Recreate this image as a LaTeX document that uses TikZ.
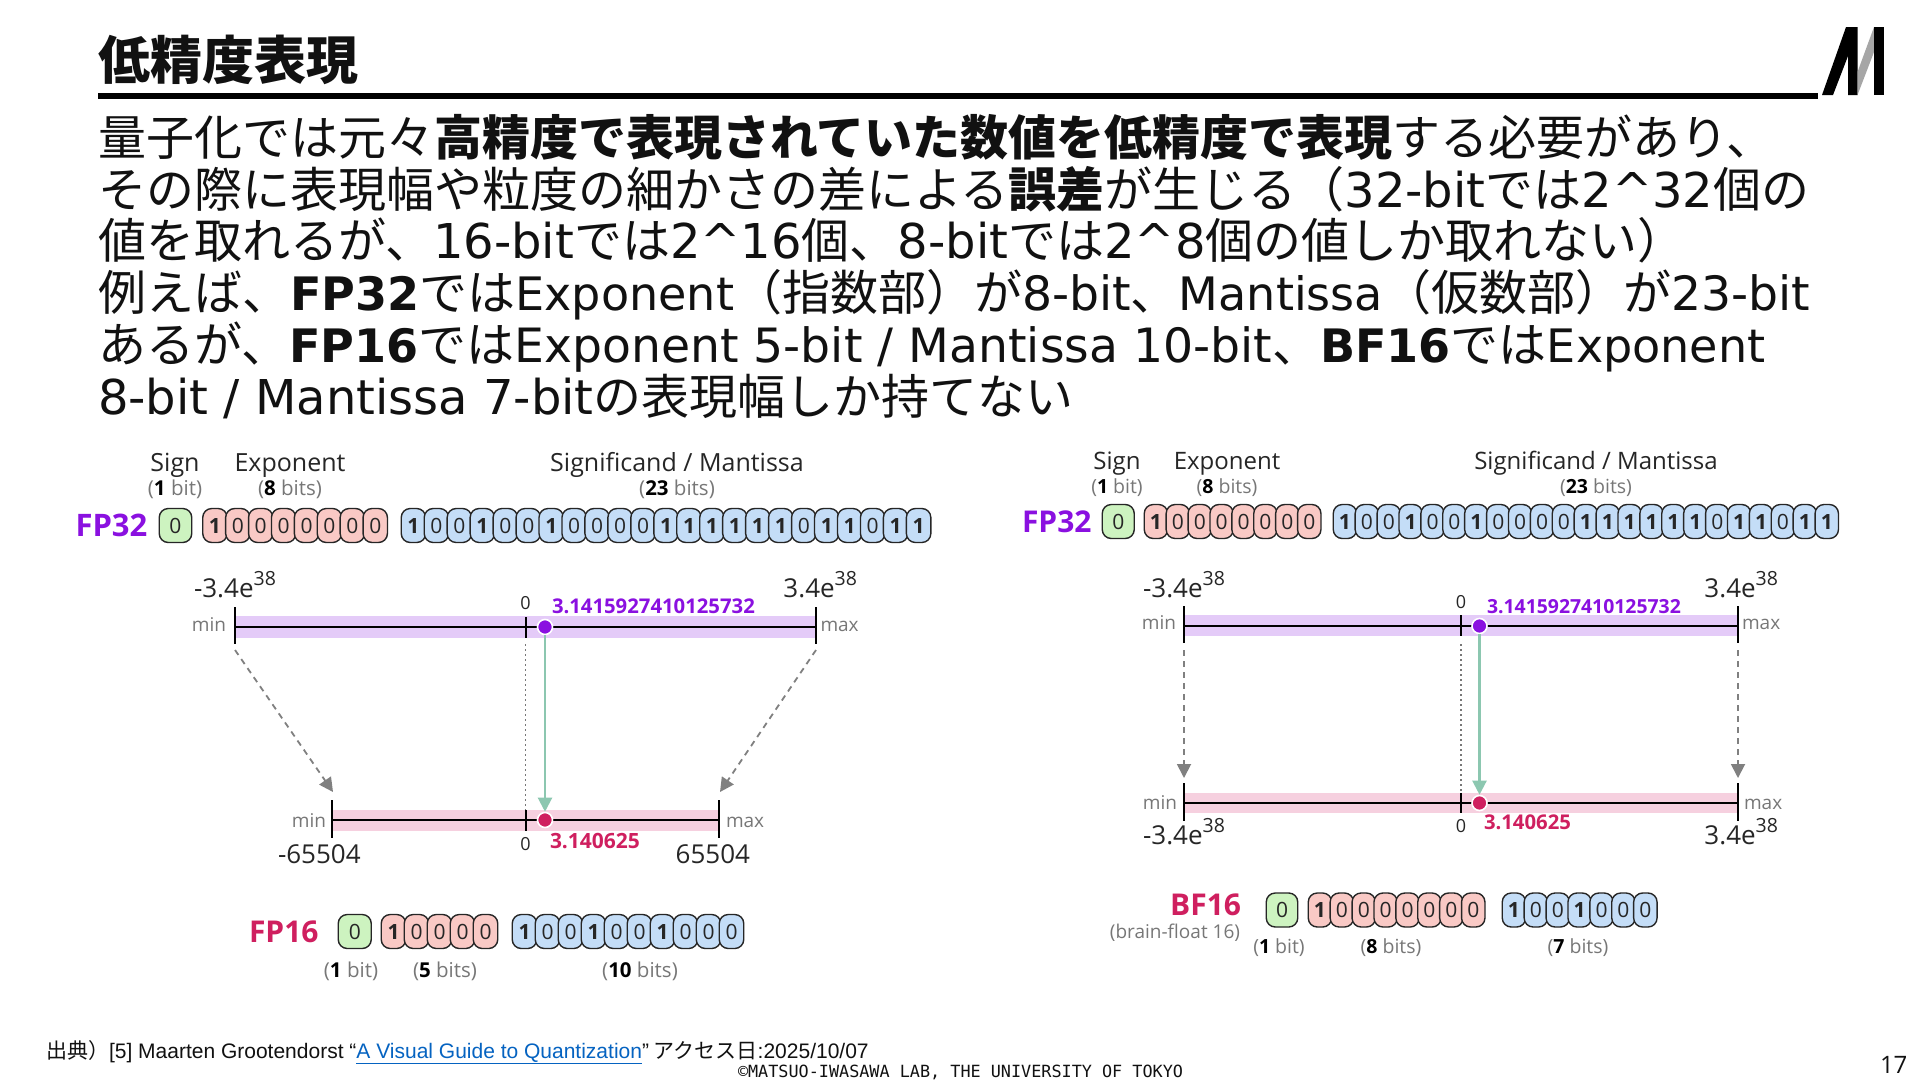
\documentclass[tikz,border=0pt]{standalone}
\usepackage{fontspec}
\setmainfont{Noto Sans CJK JP}
\newfontfamily\lat{DejaVu Sans}
\newfontfamily\latw[Scale=0.96]{DejaVu Sans}
\newfontfamily\latm[Scale=0.985]{DejaVu Sans}
\newfontfamily\dia{Open Sans}
\newfontfamily\arial{Liberation Sans}
\newfontfamily\cmono{DejaVu Sans Mono}
\usetikzlibrary{arrows.meta}
\definecolor{ink}{HTML}{111111}
\definecolor{fpP}{HTML}{8A10E0}
\definecolor{fpR}{HTML}{CF1F5F}
\definecolor{bandP}{HTML}{E4CBF8}
\definecolor{bandR}{HTML}{F6D0DF}
\definecolor{cG}{HTML}{CDF3C0}
\definecolor{cR}{HTML}{F9C9C5}
\definecolor{cB}{HTML}{C4DDF7}
\definecolor{teal}{HTML}{8CC7B0}
\definecolor{grayt}{HTML}{777777}
\definecolor{guideg}{HTML}{808080}
\definecolor{linkb}{HTML}{0563C1}
\newcommand{\sz}[1]{\fontsize{#1}{#1}\selectfont}
\newcommand{\la}[1]{{\lat #1}}
\newcommand{\lw}[1]{{\latw #1}}
\newcommand{\lm}[1]{{\latm #1}}
\newcommand{\lab}[1]{{\latw\bfseries #1}}
\newcommand{\bitlab}[2]{{\color{grayt}(}{\bfseries #1}{\color{grayt}\ #2)}}
\newcommand{\expo}[1]{#1e\raisebox{0.45em}{\sz{19.5}38}}
\newcommand{\bitrow}[6]{%
  \foreach \b [count=\i] in {#6} {
    \node[bitcell,fill=#5,minimum width=#4 pt+1.5pt] (#1\i) at ({#2+(\i-0.5)*#4},#3)
      {\ifnum\b=1 \bfseries 1\else 0\fi};
  }}
\tikzset{
  txt/.style={inner sep=0pt,outer sep=0pt,anchor=base},
  bodyline/.style={txt,anchor=base west,text=ink},
  bitcell/.style={draw=black!85,line width=1.4pt,rounded corners=9pt,inner sep=0pt,
     minimum height=34pt,font=\dia\sz{21},text=black!85},
  axisline/.style={line width=2pt,black},
  tick/.style={line width=2pt,black},
  guide/.style={line width=1.8pt,guideg,dash pattern=on 6pt off 5pt,
     -{Triangle[length=14pt,width=14pt,fill=guideg]}},
  zguide/.style={line width=1.3pt,grayt,dash pattern=on 2pt off 3pt},
  quant/.style={line width=2.2pt,teal,-{Triangle[length=14pt,width=14pt,fill=teal]}},
  dot/.style={circle,draw=white,line width=1.6pt,inner sep=0pt,minimum size=15pt},
  name lbl/.style={txt,font=\dia\sz{25},text=black!85},
  name lblr/.style={txt,font=\dia\sz{24},text=black!85},
  bits lbl/.style={txt,font=\dia\sz{20.5}},
  bits lblr/.style={txt,font=\dia\sz{19.5}},
  mm lbl/.style={txt,font=\dia\sz{19},text=grayt},
  zero lbl/.style={txt,font=\dia\sz{18},text=black!85},
  val lbl/.style={txt,font=\dia\bfseries\sz{20.3}},
  val lblr/.style={txt,font=\dia\bfseries\sz{19.4}},
  rng lbl/.style={txt,font=\dia\sz{26},text=black!85},
  fp lbl/.style={txt,font=\dia\bfseries\sz{30}},
}
\begin{document}
\begin{tikzpicture}[x=1pt,y=-1pt]
\useasboundingbox (0,0) rectangle (1920,1080);
\fill[white] (0,0) rectangle (1920,1080);
% header
\node[bodyline,font=\bfseries\sz{52}] (title) at (98,79) {低精度表現};
\coordinate (ruleL) at (98,96);
\coordinate (ruleR) at (1818,96);
\draw[line width=6pt,black] (ruleL) -- (ruleR);
\fill[black] (1822,95) -- (1846,27) -- (1857.5,27) -- (1857.5,95) -- (1848,95) -- (1848,56) -- (1833,95) -- cycle;
\fill[black!35] (1857.5,95) -- (1857.5,72) -- (1874,27) -- (1874,52) -- cycle;
\fill[black] (1874,27) rectangle (1884,95);
% body
\node[bodyline,font=\sz{48}] (b1) at (98,155) {量子化では元々{\bfseries 高精度で表現されていた数値を低精度で表現}する必要があり、};
\node[bodyline,font=\sz{48}] (b2) at (98,207) {その際に表現幅や粒度の細かさの差による{\bfseries 誤差}が生じる（\la{32-bit}では\la{2\textasciicircum 32}個の};
\node[bodyline,font=\sz{48}] (b3) at (98,258) {値を取れるが、\la{16-bit}では\la{2\textasciicircum 16}個、\la{8-bit}では\la{2\textasciicircum 8}個の値しか取れない）};
\node[bodyline,font=\sz{48}] (b4) at (98,310) {例えば、\lab{FP32}では\lw{Exponent}（指数部）が\lm{8-bit}、\lw{Mantissa}（仮数部）が\lm{23-bit}};
\node[bodyline,font=\sz{48}] (b5) at (98,362) {あるが、\lab{FP16}では\lm{Exponent 5-bit / Mantissa 10-bit}、\lab{BF16}では\lw{Exponent}};
\node[bodyline,font=\sz{48}] (b6) at (98,414) {\la{8-bit / Mantissa 7-bit}の表現幅しか持てない};
% ---------- left
\node[name lbl] (lS) at (175,471) {Sign};
\node[name lbl] (lE) at (290,471) {Exponent};
\node[name lbl] (lM) at (677,471) {Significand / Mantissa};
\node[bits lbl] (lSb) at (175,495) {\bitlab{1}{bit}};
\node[bits lbl] (lEb) at (290,495) {\bitlab{8}{bits}};
\node[bits lbl] (lMb) at (677,495) {\bitlab{23}{bits}};
\node[fp lbl,font=\dia\bfseries\sz{31},text=fpP,anchor=base west] (lfp) at (75.5,536) {FP32};
\bitrow{lsg}{160}{525.5}{31}{cG}{0}
\bitrow{lex}{203.5}{525.5}{22.9}{cR}{1,0,0,0,0,0,0,0}
\bitrow{lma}{402}{525.5}{22.96}{cB}{1,0,0,1,0,0,1,0,0,0,0,1,1,1,1,1,1,0,1,1,0,1,1}
% upper line
\fill[bandP] (235,616) rectangle (816,638);
\coordinate (la0) at (235,627); \coordinate (la1) at (816,627);
\coordinate (lat0) at (235,607); \coordinate (lab0) at (235,644);
\coordinate (lat1) at (816,607); \coordinate (lab1) at (816,644);
\coordinate (lzt) at (525.5,617); \coordinate (lzb) at (525.5,638);
\draw[axisline] (la0) -- (la1);
\draw[tick] (lat0) -- (lab0); \draw[tick] (lat1) -- (lab1); \draw[tick] (lzt) -- (lzb);
\node[rng lbl,anchor=base west] (lmn) at (194,597) {\expo{-3.4}};
\node[rng lbl,anchor=base east] (lmx) at (857,597) {\expo{3.4}};
\node[mm lbl,anchor=base east] (lmin) at (226,631) {min};
\node[mm lbl,anchor=base west] (lmax) at (820.5,631) {max};
\node[zero lbl] (lz) at (525.5,609) {0};
\node[val lbl,anchor=base west,text=fpP] (lv) at (552,613) {3.1415927410125732};
% lower line
\fill[bandR] (332,810) rectangle (719,831);
\coordinate (lb0) at (332,820); \coordinate (lb1) at (719,820);
\coordinate (lbt0) at (332,800); \coordinate (lbb0) at (332,838);
\coordinate (lbt1) at (719,800); \coordinate (lbb1) at (719,838);
\coordinate (lzt2) at (525.5,810); \coordinate (lzb2) at (525.5,831);
\draw[zguide] (lzb) ++(0,6) -- (lzt2);
\draw[axisline] (lb0) -- (lb1);
\draw[tick] (lbt0) -- (lbb0); \draw[tick] (lbt1) -- (lbb1); \draw[tick] (lzt2) -- (lzb2);
\node[mm lbl,anchor=base east] (lbmin) at (326,827) {min};
\node[mm lbl,anchor=base west] (lbmax) at (726,827) {max};
\node[zero lbl] (lz2) at (525.5,850) {0};
\node[val lbl,font=\dia\bfseries\sz{21},anchor=base west,text=fpR] (lv2) at (550,848) {3.140625};
\node[rng lbl,anchor=base west] (ln65) at (278,863) {-65504};
\node[rng lbl,anchor=base east] (lp65) at (750,863) {65504};
% guides
\coordinate (lgs0) at (235,650); \coordinate (lge0) at (333,792);
\coordinate (lgs1) at (816,650); \coordinate (lge1) at (720,792);
\draw[guide] (lgs0) -- (lge0);
\draw[guide] (lgs1) -- (lge1);
\node[dot,fill=fpP] (ld) at (545,627) {};
\node[dot,fill=fpR] (ld2) at (545,820) {};
\draw[quant] (ld) -- (ld2);
% FP16
\node[fp lbl,text=fpR,anchor=base west] (lfp16) at (249,942) {FP16};
\bitrow{usg}{339}{931.5}{31.5}{cG}{0}
\bitrow{uex}{382}{931.5}{23}{cR}{1,0,0,0,0}
\bitrow{uma}{513}{931.5}{23}{cB}{1,0,0,1,0,0,1,0,0,0}
\node[bits lbl] (uSb) at (351,977) {\bitlab{1}{bit}};
\node[bits lbl] (uEb) at (445,977) {\bitlab{5}{bits}};
\node[bits lbl] (uMb) at (640,977) {\bitlab{10}{bits}};
% ---------- right
\node[name lblr] (rS) at (1117,469) {Sign};
\node[name lblr] (rE) at (1227,469) {Exponent};
\node[name lblr] (rM) at (1596,469) {Significand / Mantissa};
\node[bits lblr] (rSb) at (1117,493) {\bitlab{1}{bit}};
\node[bits lblr] (rEb) at (1227,493) {\bitlab{8}{bits}};
\node[bits lblr] (rMb) at (1596,493) {\bitlab{23}{bits}};
\node[fp lbl,text=fpP,anchor=base west] (rfp) at (1022,532) {FP32};
\bitrow{rsg}{1103}{521.5}{30.5}{cG}{0}
\bitrow{rex}{1145}{521.5}{21.9}{cR}{1,0,0,0,0,0,0,0}
\bitrow{rma}{1334}{521.5}{21.9}{cB}{1,0,0,1,0,0,1,0,0,0,0,1,1,1,1,1,1,0,1,1,0,1,1}
\fill[bandP] (1184,615) rectangle (1738,636);
\coordinate (ra0) at (1184,626); \coordinate (ra1) at (1738,626);
\coordinate (rat0) at (1184,606); \coordinate (rab0) at (1184,643);
\coordinate (rat1) at (1738,606); \coordinate (rab1) at (1738,643);
\coordinate (rzt) at (1461,615); \coordinate (rzb) at (1461,636);
\draw[axisline] (ra0) -- (ra1);
\draw[tick] (rat0) -- (rab0); \draw[tick] (rat1) -- (rab1); \draw[tick] (rzt) -- (rzb);
\node[rng lbl,anchor=base west] (rmn) at (1143,597) {\expo{-3.4}};
\node[rng lbl,anchor=base east] (rmx) at (1778,597) {\expo{3.4}};
\node[mm lbl,anchor=base east] (rmin) at (1176,629) {min};
\node[mm lbl,anchor=base west] (rmax) at (1742,629) {max};
\node[zero lbl] (rz) at (1461,608) {0};
\node[val lblr,anchor=base west,text=fpP] (rv) at (1487,613) {3.1415927410125732};
\fill[bandR] (1184,793) rectangle (1738,813);
\coordinate (rb0) at (1184,803); \coordinate (rb1) at (1738,803);
\coordinate (rbt0) at (1184,783); \coordinate (rbb0) at (1184,821);
\coordinate (rbt1) at (1738,783); \coordinate (rbb1) at (1738,821);
\coordinate (rzt2) at (1461,793); \coordinate (rzb2) at (1461,813);
\draw[zguide] (rzb) ++(0,8) -- (rzt2);
\draw[axisline] (rb0) -- (rb1);
\draw[tick] (rbt0) -- (rbb0); \draw[tick] (rbt1) -- (rbb1); \draw[tick] (rzt2) -- (rzb2);
\node[mm lbl,anchor=base east] (rbmin) at (1177,809) {min};
\node[mm lbl,anchor=base west] (rbmax) at (1744,809) {max};
\node[zero lbl] (rz2) at (1461,832) {0};
\node[val lbl,anchor=base west,text=fpR] (rv2) at (1484,829) {3.140625};
\node[rng lbl,anchor=base west] (rbmn) at (1143,844) {\expo{-3.4}};
\node[rng lbl,anchor=base east] (rbmx) at (1778,844) {\expo{3.4}};
\coordinate (rgs0) at (1184,650); \coordinate (rge0) at (1184,778);
\coordinate (rgs1) at (1738,650); \coordinate (rge1) at (1738,778);
\draw[guide] (rgs0) -- (rge0);
\draw[guide] (rgs1) -- (rge1);
\node[dot,fill=fpP] (rd) at (1479.5,626) {};
\node[dot,fill=fpR] (rd2) at (1479.5,803) {};
\draw[quant] (rd) -- (rd2);
% BF16
\node[fp lbl,text=fpR,anchor=base east] (rbf) at (1241,915) {BF16};
\node[mm lbl,anchor=base east] (rbrain) at (1240,938) {(brain-float 16)};
\bitrow{bsg}{1267}{910}{30}{cG}{0}
\bitrow{bex}{1309}{910}{21.9}{cR}{1,0,0,0,0,0,0,0}
\bitrow{bma}{1503}{910}{21.9}{cB}{1,0,0,1,0,0,0}
\node[bits lblr] (bSb) at (1279,953) {\bitlab{1}{bit}};
\node[bits lblr] (bEb) at (1391,953) {\bitlab{8}{bits}};
\node[bits lblr] (bMb) at (1578,953) {\bitlab{7}{bits}};
% footer
\node[bodyline,font=\sz{21}] (foot) at (46,1058) {出典）{\arial [5] Maarten Grootendorst “{\color{linkb}\underline{A Visual Guide to Quantization}}”} アクセス日{\arial :2025/10/07}};
\node[bodyline,font=\cmono\sz{16.8}] (copy) at (738,1077) {©MATSUO-IWASAWA LAB, THE UNIVERSITY OF TOKYO};
\node[bodyline,font=\dia\sz{24}] (pg) at (1880,1073) {17};
\end{tikzpicture}
\end{document}
